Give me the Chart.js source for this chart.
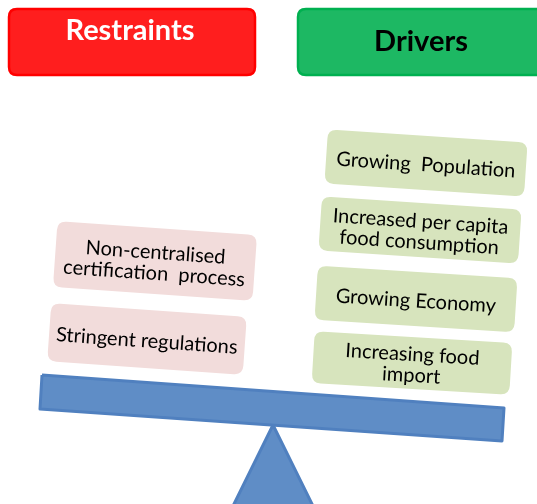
<!DOCTYPE html>
<html>
<head>
<meta charset="utf-8">
<script src="https://cdn.jsdelivr.net/npm/chart.js@4"></script>
<style>
  html, body { margin: 0; padding: 0; background: #ffffff; overflow: hidden; }
  canvas { display: block; }
</style>
</head>
<body>
<canvas id="balanca" width="537" height="504"></canvas>
<script>
// Textos do diagrama
const titulos = ['Restraints', 'Drivers'];
const restricoes = [['Non-centralised', 'certification  process'], ['Stringent regulations']];
const impulsores = [['Growing  Population'], ['Increased per capita', 'food consumption'], ['Growing Economy'], ['Increasing food', 'import']];

// Layout (coordenadas no espaço da página, eixos escondidos 0..537 / 0..504)
const layoutTitulos = [
    { x: 9, y: 9, w: 246, h: 66, fundo: '#FF1E1E', borda: '#FF0000', cor: '#FFFFFF', tx: 130, ty: 31 },
    { x: 298, y: 9, w: 270, h: 66, fundo: '#1DB863', borda: '#00B050', cor: '#000000', tx: 421, ty: 42 }
];
const layoutRestricoes = [
    { cx: 155, cy: 261, w: 200, h: 66, ang: 4.0 },
    { cx: 147, cy: 339, w: 196, h: 58, ang: 4.0 }
];
const layoutImpulsores = [
    { cx: 426, cy: 163, w: 200, h: 54, ang: 3.8 },
    { cx: 420, cy: 230, w: 200, h: 54, ang: 3.8 },
    { cx: 416, cy: 299, w: 200, h: 54, ang: 3.6 },
    { cx: 412, cy: 363, w: 198, h: 52, ang: 3.4 }
];
const viga = [{ x: 42, y: 375 }, { x: 504, y: 408 }, { x: 502, y: 441 }, { x: 40, y: 409 }, { x: 42, y: 375 }];
const apoio = [{ x: 273, y: 425 }, { x: 313, y: 506 }, { x: 233, y: 506 }, { x: 273, y: 425 }];

const fonte = 'Lato, "Open Sans", sans-serif';

function retanguloArredondado(ctx, x, y, w, h, r) {
    ctx.beginPath();
    ctx.moveTo(x + r, y);
    ctx.lineTo(x + w - r, y);
    ctx.quadraticCurveTo(x + w, y, x + w, y + r);
    ctx.lineTo(x + w, y + h - r);
    ctx.quadraticCurveTo(x + w, y + h, x + w - r, y + h);
    ctx.lineTo(x + r, y + h);
    ctx.quadraticCurveTo(x, y + h, x, y + h - r);
    ctx.lineTo(x, y + r);
    ctx.quadraticCurveTo(x, y, x + r, y);
    ctx.closePath();
}

function desenharCaixa(chart, linhas, pos, fundo) {
    const ctx = chart.ctx;
    const sx = chart.scales.x, sy = chart.scales.y;
    const cx = sx.getPixelForValue(pos.cx);
    const cy = sy.getPixelForValue(pos.cy);
    ctx.save();
    ctx.translate(cx, cy);
    ctx.rotate(pos.ang * Math.PI / 180);
    retanguloArredondado(ctx, -pos.w / 2, -pos.h / 2, pos.w, pos.h, 9);
    ctx.fillStyle = fundo;
    ctx.fill();
    ctx.fillStyle = '#000000';
    ctx.font = '20px ' + fonte;
    ctx.textAlign = 'center';
    ctx.textBaseline = 'middle';
    const passo = 21;
    const inicio = -(linhas.length - 1) * passo / 2;
    linhas.forEach((linha, i) => ctx.fillText(linha, 0, inicio + i * passo + 2));
    ctx.restore();
}

const pluginDiagrama = {
    id: 'diagrama',
    beforeDatasetsDraw(chart) {
        const ctx = chart.ctx;
        const sx = chart.scales.x, sy = chart.scales.y;
        titulos.forEach((titulo, i) => {
            const l = layoutTitulos[i];
            const x = sx.getPixelForValue(l.x), y = sy.getPixelForValue(l.y);
            ctx.save();
            retanguloArredondado(ctx, x, y, l.w, l.h, 8);
            ctx.fillStyle = l.fundo;
            ctx.fill();
            ctx.lineWidth = 2.5;
            ctx.strokeStyle = l.borda;
            ctx.stroke();
            ctx.fillStyle = l.cor;
            ctx.font = 'bold 29px ' + fonte;
            ctx.textAlign = 'center';
            ctx.textBaseline = 'middle';
            ctx.fillText(titulo, sx.getPixelForValue(l.tx), sy.getPixelForValue(l.ty));
            ctx.restore();
        });
        restricoes.forEach((linhas, i) => desenharCaixa(chart, linhas, layoutRestricoes[i], '#F2DCDB'));
        impulsores.forEach((linhas, i) => desenharCaixa(chart, linhas, layoutImpulsores[i], '#D7E4BD'));
    }
};

new Chart(document.getElementById('balanca').getContext('2d'), {
    type: 'scatter',
    data: {
        datasets: [
            {
                data: viga,
                showLine: true,
                fill: 'shape',
                backgroundColor: '#5F8DC6',
                borderColor: '#5080BF',
                borderWidth: 3,
                borderJoinStyle: 'round',
                pointRadius: 0
            },
            {
                data: apoio,
                showLine: true,
                fill: 'shape',
                backgroundColor: '#5F8DC6',
                borderColor: '#5080BF',
                borderWidth: 3,
                borderJoinStyle: 'round',
                pointRadius: 0
            }
        ]
    },
    options: {
        responsive: false,
        animation: false,
        layout: { padding: 0 },
        plugins: {
            legend: { display: false },
            tooltip: { enabled: false }
        },
        scales: {
            x: { type: 'linear', min: 0, max: 537, display: false },
            y: { type: 'linear', min: 0, max: 504, reverse: true, display: false }
        }
    },
    plugins: [pluginDiagrama]
});
</script>
</body>
</html>
